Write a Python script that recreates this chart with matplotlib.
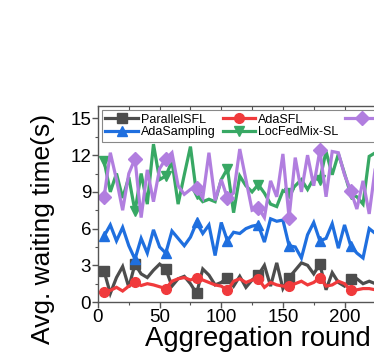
#!/usr/bin/env python3
"""
Average waiting time per aggregation round for five split-FL schemes.
"""

import matplotlib
matplotlib.use('Agg')
import matplotlib.pyplot as plt

# ---------------------------------------------------------------------------
# Data (one value every 5 rounds)
# ---------------------------------------------------------------------------
rounds = list(range(5, 235, 5))

parallel_sfl = [2.5, 0.7, 2.0, 2.9, 1.2, 3.1, 2.3, 2.0, 2.6, 3.1,
                2.7, 1.3, 1.9, 2.1, 1.5, 0.7, 2.7, 2.2, 1.4, 1.6,
                2.0, 1.3, 2.1, 1.2, 1.8, 2.2, 3.0, 1.3, 3.2, 1.1,
                2.0, 2.6, 3.2, 3.0, 2.3, 3.1, 1.0, 2.4, 1.6, 1.3,
                1.85, 1.9, 1.5, 1.7, 1.5, 1.8]

ada_sfl = [0.85, 0.95, 1.2, 0.9, 1.3, 1.6, 1.35, 1.5, 1.4, 1.25,
           1.1, 1.7, 1.9, 2.0, 1.8, 2.0, 1.8, 1.6, 1.4, 1.3,
           0.95, 1.7, 1.9, 1.6, 1.8, 1.9, 1.2, 1.6, 1.4, 1.3,
           1.3, 1.5, 1.7, 1.4, 1.6, 2.0, 1.3, 1.4, 1.7, 1.5,
           0.95, 1.0, 1.1, 1.1, 1.0, 1.0]

ada_sampling = [5.4, 6.3, 5.0, 6.1, 4.6, 3.5, 5.2, 4.0, 5.9, 4.5,
                4.0, 5.8, 5.2, 4.6, 5.3, 6.5, 5.6, 6.3, 3.8, 6.5,
                5.0, 5.7, 5.6, 6.0, 6.2, 6.3, 4.9, 6.8, 6.6, 6.7,
                4.6, 4.5, 3.6, 5.5, 6.5, 5.0, 5.2, 6.4, 4.4, 6.3,
                4.6, 4.0, 3.6, 6.0, 5.6, 5.8]

locfedmix_sl = [11.5, 9.0, 10.5, 8.5, 10.2, 7.4, 10.5, 8.0, 12.9, 10.0,
                10.3, 11.5, 8.0, 10.4, 12.7, 8.8, 8.2, 8.4, 8.2, 10.0,
                10.9, 7.3, 10.3, 9.5, 9.0, 9.6, 8.9, 8.0, 7.8, 9.1,
                8.9, 9.5, 10.0, 9.2, 10.1, 10.0, 12.3, 10.4, 12.1, 10.5,
                8.8, 8.6, 8.0, 11.9, 12.2, 12.0]

ours = [8.6, 12.2, 10.0, 7.5, 10.5, 11.7, 6.9, 10.8, 8.2, 10.9,
        11.7, 12.2, 9.5, 8.8, 9.2, 9.3, 8.5, 12.2, 8.3, 10.0,
        8.5, 8.9, 12.5, 10.0, 7.5, 7.7, 6.9, 9.9, 8.6, 12.1,
        6.9, 11.8, 9.0, 12.0, 9.5, 12.4, 8.6, 12.3, 12.2, 10.4,
        9.1, 7.6, 9.9, 7.2, 11.0, 12.0]

series_names = ['ParallelSFL', 'AdaSFL', 'AdaSampling', 'LocFedMix-SL', 'Ours']

# ---------------------------------------------------------------------------
# Style
# ---------------------------------------------------------------------------
plt.rcParams['font.family'] = ['Liberation Sans', 'DejaVu Sans']

colors = ['#4d4d4d', '#f03a3c', '#1f6fdf', '#38a864', '#b17edf']
markers = ['s', 'o', '^', 'v', 'D']
spine_color = '#555555'

# ---------------------------------------------------------------------------
# Figure (axes runs past the right edge, as in the cropped original)
# ---------------------------------------------------------------------------
fig = plt.figure(figsize=(3.74, 3.6), dpi=100)
ax = fig.add_axes([0.262, 0.161, 0.857, 0.544])

all_series = [parallel_sfl, ada_sfl, ada_sampling, locfedmix_sl, ours]
lines = []
for vals, name, c, m in zip(all_series, series_names, colors, markers):
    ln, = ax.plot(rounds, vals, color=c, lw=2.3, marker=m, markersize=7,
                  markevery=5, label=name, solid_joinstyle='miter')
    lines.append(ln)

ax.set_xlim(0, 260)
ax.set_ylim(0, 16)
ax.set_xticks([0, 50, 100, 150, 200, 250])
ax.set_yticks([0, 3, 6, 9, 12, 15])
ax.set_xticks(range(25, 260, 50), minor=True)
ax.set_yticks([1.5, 4.5, 7.5, 10.5, 13.5], minor=True)

ax.tick_params(axis='both', which='major', labelsize=13.5, direction='out',
               length=4, width=1.0, color=spine_color, pad=1)
ax.tick_params(axis='both', which='minor', direction='out',
               length=2.5, width=0.8, color=spine_color)

# inward ticks on the top spine
top = ax.secondary_xaxis('top')
top.set_xticks([0, 50, 100, 150, 200, 250])
top.set_xticks(range(25, 260, 50), minor=True)
top.tick_params(which='both', direction='in', labeltop=False,
                length=3, width=0.8, color=spine_color)
top.spines['top'].set_visible(False)

for sp in ax.spines.values():
    sp.set_color(spine_color)
    sp.set_linewidth(1.0)

ax.set_xlabel('Aggregation round', fontsize=19.8, labelpad=0)
ax.set_ylabel('Avg. waiting time(s)', fontsize=19)
ax.yaxis.set_label_coords(-0.134, 0.375)

# row-wise legend order: matplotlib fills columns first
order = [0, 2, 1, 3, 4]
leg = ax.legend([lines[i] for i in order], [series_names[i] for i in order],
                loc='upper left', ncol=3, fontsize=9, frameon=True,
                fancybox=False, edgecolor='#888888', framealpha=1,
                handlelength=2.6, handletextpad=0.25, columnspacing=0.55,
                labelspacing=0.05, borderpad=0.3, borderaxespad=0.3)
leg.get_frame().set_linewidth(0.8)

fig.savefig('out.png', dpi=100)
plt.close(fig)
